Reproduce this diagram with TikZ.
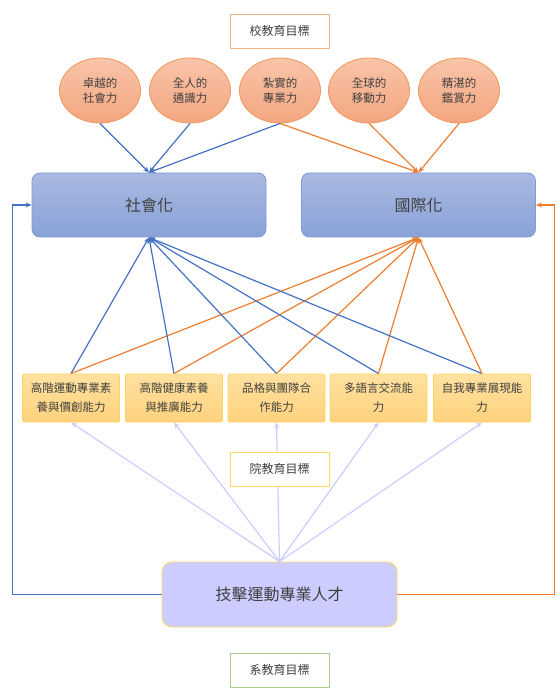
\documentclass[tikz,border=0pt]{standalone}
\usepackage{fontspec}
\setmainfont{Noto Sans CJK TC}
\usetikzlibrary{shapes.geometric,arrows.meta}
\definecolor{ink}{HTML}{404040}
\definecolor{socline}{HTML}{4472C4}
\definecolor{intline}{HTML}{ED7D31}
\definecolor{lavline}{HTML}{CCCCFF}
\definecolor{blobline}{HTML}{F19A62}
\definecolor{blobtop}{HTML}{F8C4A8}
\definecolor{blobbot}{HTML}{F4A680}
\definecolor{goalline}{HTML}{7E9BD6}
\definecolor{goaltop}{HTML}{AAB9E1}
\definecolor{goalbot}{HTML}{8AA2D8}
\definecolor{skillline}{HTML}{FFD45A}
\definecolor{skilltop}{HTML}{FFE1A0}
\definecolor{skillbot}{HTML}{FFD27D}
\definecolor{uniline}{HTML}{F4B183}
\definecolor{colline}{HTML}{FFD966}
\definecolor{depline}{HTML}{A9D18E}
\begin{document}
\begin{tikzpicture}[x=1pt,y=-1pt,
	blob/.style={ellipse,draw=blobline,line width=0.9pt,top color=blobtop,bottom color=blobbot,minimum width=81pt,minimum height=65pt,inner sep=0pt,align=center,text=ink,font=\fontsize{11.5}{15}\selectfont},
	goal/.style={draw=goalline,line width=0.9pt,rounded corners=8pt,top color=goaltop,bottom color=goalbot,minimum width=234pt,minimum height=64pt,text=ink,font=\fontsize{16}{18}\selectfont},
	skill/.style={draw=skillline,line width=0.9pt,rounded corners=1.5pt,top color=skilltop,bottom color=skillbot,minimum width=97pt,minimum height=48pt,inner sep=0pt,align=center,text=ink,font=\fontsize{11.5}{19}\selectfont},
	tag/.style={draw=#1,line width=0.9pt,fill=white,minimum width=99pt,minimum height=34pt,text=ink,font=\fontsize{12}{14}\selectfont},
	soc/.style={draw=socline,line width=1.2pt,-{Stealth[length=6pt,width=5pt]}},
	int/.style={draw=intline,line width=1.2pt,-{Stealth[length=6pt,width=5pt]}},
	lav/.style={draw=lavline,line width=1.2pt,-{Stealth[length=6pt,width=5pt]}}]
	\useasboundingbox (0,0) rectangle (558,700);
	\node[tag=uniline] (t1) at (279.5,31) {校教育目標};
	\node[blob] (e1) at (100,90.5) {卓越的\\社會力};
	\node[blob] (e2) at (190,90.5) {全人的\\通識力};
	\node[blob] (e3) at (280,90.5) {紮實的\\專業力};
	\node[blob] (e4) at (369,90.5) {全球的\\移動力};
	\node[blob] (e5) at (459,90.5) {精湛的\\鑑賞力};
	\node[goal] (g1) at (149,205) {社會化};
	\node[goal] (g2) at (418.5,205) {國際化};
	\node[skill] (s1) at (71,398) {高階運動專業素\\養與價創能力};
	\node[skill] (s2) at (174,398) {高階健康素養\\與推廣能力};
	\node[skill] (s3) at (276.5,398) {品格與團隊合\\作能力};
	\node[skill] (s4) at (378.5,398) {多語言交流能\\力};
	\node[skill] (s5) at (482,398) {自我專業展現能\\力};
	\node[draw=colline,line width=0.9pt,rounded corners=10pt,fill=lavline,minimum width=235pt,minimum height=65pt,text=ink,font=\fontsize{16}{18}\selectfont] (tal) at (279.5,594.5) {技擊運動專業人才};
	 \draw[soc] (e1.south) -- (g1.north);
	 \draw[soc] (e2.south) -- (g1.north);
	 \draw[soc] (e3.south) -- (g1.north);
	 \draw[int] (e3.south) -- (g2.north);
	 \draw[int] (e4.south) -- (g2.north);
	 \draw[int] (e5.south) -- (g2.north);
	\foreach \s in {s1,s2,s3,s4,s5} {
	 \draw[soc] (\s.north) -- (g1.south);
	 \draw[int] (\s.north) -- (g2.south);
	 \draw[lav] (tal.north) -- (\s.south);
	}
	 \draw[soc] (tal.west) -- ++(-149,0) |- (g1.west);
	 \draw[int] (tal.east) -- ++(157,0) |- (g2.east);
	\node[tag=colline] (t2) at (279.5,469) {院教育目標};
	\node[tag=depline] (t3) at (279.5,670) {系教育目標};
\end{tikzpicture}
\end{document}
